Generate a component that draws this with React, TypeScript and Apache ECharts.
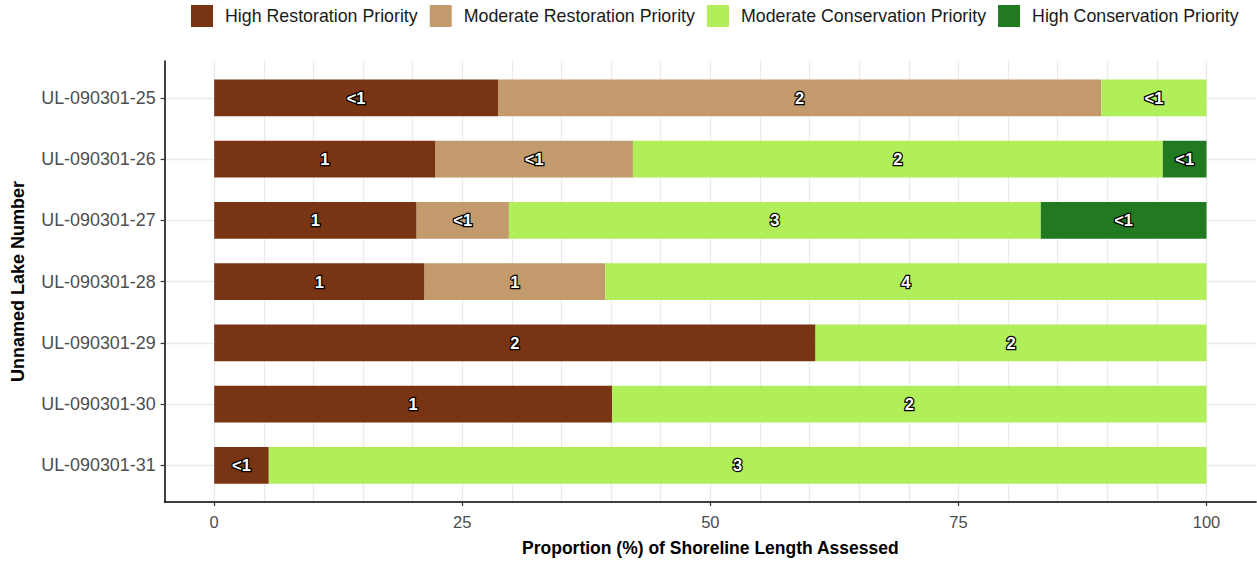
import React, { useEffect, useRef } from "react";
import * as echarts from "echarts";

const lakes = [
  "UL-090301-25",
  "UL-090301-26",
  "UL-090301-27",
  "UL-090301-28",
  "UL-090301-29",
  "UL-090301-30",
  "UL-090301-31",
];
const seriesNames = [
  "High Restoration Priority",
  "Moderate Restoration Priority",
  "Moderate Conservation Priority",
  "High Conservation Priority",
];
const highRestoration = [28.6, 22.3, 20.4, 21.2, 60.6, 40.1, 5.5];
const moderateRestoration = [60.8, 19.9, 9.3, 18.2, null, null, null];
const moderateConservation = [10.6, 53.4, 53.6, 60.6, 39.4, 59.9, 94.5];
const highConservation = [null, 4.4, 16.7, null, null, null, null];

const highRestorationLabels = ["<1", "1", "1", "1", "2", "1", "<1"];
const moderateRestorationLabels = ["2", "<1", "<1", "1", "", "", ""];
const moderateConservationLabels = ["<1", "2", "3", "4", "2", "2", "3"];
const highConservationLabels = ["", "<1", "<1", "", "", "", ""];

const xTickLabels = [0, 25, 50, 75, 100];
const colors = ["#793413", "#C29A6B", "#B0EE5A", "#217A1F"];

const FONT = "'Liberation Sans', Arial, Helvetica, sans-serif";

export default function App() {
  const ref = useRef<HTMLDivElement>(null);
  useEffect(() => {
    if (!ref.current) return;
    const chart = echarts.init(ref.current, undefined, { renderer: "svg" });

    const panelLeft = 164.6;
    const panelTop = 61;
    const panelHeight = 441;
    const panelWidth = 1091.5;
    const unit = panelHeight / 7.2;
    const barLeft = 214.2;
    const barWidthPx = 992.3;
    const barTop = panelTop + 0.1 * unit;
    const barHeight = 7 * unit;
    const bottomOffset = panelTop + panelHeight - (barTop + barHeight);

    const values = [highRestoration, moderateRestoration, moderateConservation, highConservation];
    const labels = [highRestorationLabels, moderateRestorationLabels, moderateConservationLabels, highConservationLabels];

    const barSeries = seriesNames.map((name, si) => ({
      name,
      type: "bar",
      stack: "total",
      xAxisIndex: 1,
      yAxisIndex: 1,
      barWidth: "60%",
      itemStyle: { color: colors[si] },
      data: values[si],
      label: {
        show: true,
        position: "inside",
        formatter: (p: any) => labels[si][p.dataIndex] || "",
        color: "#ffffff",
        fontFamily: FONT,
        fontWeight: "bold",
        fontSize: 16.5,
        textBorderColor: "#000000",
        textBorderWidth: 2.5,
      },
      emphasis: { disabled: true },
    }));

    chart.setOption({
      animation: false,
      textStyle: { fontFamily: FONT },
      legend: {
        top: 0,
        left: 186,
        itemWidth: 22,
        itemHeight: 22,
        itemGap: 12,
        icon: "rect",
        data: seriesNames,
        textStyle: {
          fontSize: 17.8,
          color: "#1a1a1a",
          fontFamily: FONT,
          padding: [0, 0, 0, 7],
        },
      },
      grid: [
        {
          left: panelLeft,
          top: panelTop,
          width: panelWidth,
          height: panelHeight,
          containLabel: false,
          outerBoundsMode: "none",
        },
        {
          left: barLeft,
          top: barTop,
          width: barWidthPx,
          height: barHeight,
          containLabel: false,
          outerBoundsMode: "none",
        },
      ],
      xAxis: [
        {
          type: "value",
          gridIndex: 0,
          min: -5,
          max: 105,
          interval: 5,
          axisLine: { show: true, onZero: false, lineStyle: { color: "#000", width: 1.5 } },
          axisTick: { show: false },
          axisLabel: { show: false },
          splitLine: {
            show: true,
            showMinLine: false,
            showMaxLine: false,
            lineStyle: { color: "#ebebeb", width: 1.3 },
          },
        },
        {
          type: "value",
          gridIndex: 1,
          min: 0,
          max: 100,
          interval: 25,
          offset: bottomOffset,
          axisLine: { show: false, onZero: false },
          axisTick: { show: true, length: 4, lineStyle: { color: "#333", width: 1.2 } },
          axisLabel: {
            show: true,
            color: "#4d4d4d",
            fontSize: 16.5,
            margin: 11,
            formatter: (v: number) => (xTickLabels.includes(v) ? String(v) : ""),
          },
          splitLine: { show: false },
          name: "Proportion (%) of Shoreline Length Assessed",
          nameLocation: "middle",
          nameGap: 37,
          nameTextStyle: { fontWeight: "bold", fontSize: 17.5, color: "#000" },
        },
      ],
      yAxis: [
        {
          type: "value",
          gridIndex: 0,
          min: -0.6,
          max: 6.6,
          inverse: true,
          minInterval: 1,
          maxInterval: 1,
          axisLine: { show: true, onZero: false, lineStyle: { color: "#000", width: 1.5 } },
          axisTick: { show: false },
          axisLabel: { show: false },
          splitLine: {
            show: true,
            showMinLine: false,
            showMaxLine: false,
            lineStyle: { color: "#ebebeb", width: 1.3 },
          },
        },
        {
          type: "category",
          gridIndex: 1,
          data: lakes,
          inverse: true,
          offset: barLeft - panelLeft,
          axisLine: { show: false, onZero: false },
          axisTick: { show: true, alignWithLabel: true, length: 4, lineStyle: { color: "#333", width: 1.2 } },
          axisLabel: { color: "#4d4d4d", fontSize: 17.9, margin: 9 },
          splitLine: { show: false },
          name: "Unnamed Lake Number",
          nameLocation: "middle",
          nameRotate: 90,
          nameGap: 138,
          nameTextStyle: { fontWeight: "bold", fontSize: 18, color: "#000" },
        },
      ],
      series: barSeries,
    });
    return () => chart.dispose();
  }, []);
  return (
    <div
      ref={ref}
      style={{ position: "fixed", left: 0, top: 0, width: 1257, height: 563, background: "#fff" }}
    />
  );
}
